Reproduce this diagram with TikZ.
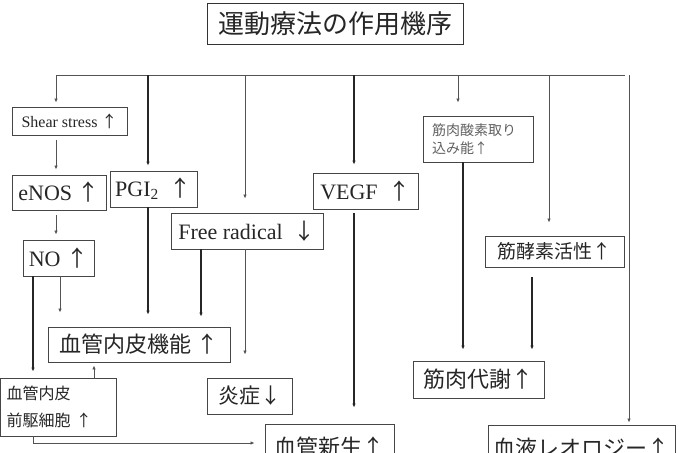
\documentclass[tikz,border=0pt]{standalone}
\usepackage{fontspec}
\setmainfont{Liberation Serif}
\newfontfamily\jp{Noto Sans CJK JP}
\usetikzlibrary{arrows.meta}

\newcommand\uarr{{\jp ↑}}
\newcommand\darr{{\jp ↓}}

\begin{document}
\begin{tikzpicture}[x=1pt, y=-1pt,
    box/.style={draw=gray!55!black, line width=0.9pt, inner sep=0pt, text=black!85},
    jbox/.style={box, font=\jp\fontsize{22}{24}\selectfont},
    ebox/.style={box, font=\fontsize{22}{24}\selectfont},
    conn/.style={-{Latex[length=4pt,width=3.5pt]}, draw=gray!65!black, line width=0.8pt, shorten >=4pt},
    connb/.style={conn, draw=black!85, line width=1.3pt}]
  \useasboundingbox (0,0) rectangle (679,452);
  \clip (0,0) rectangle (679,452);

  % Titel
  \node[box, draw=black!80, minimum width=256pt, minimum height=41pt,
        font=\jp\fontsize{26}{28}\selectfont] (title) at (335,23.5) {運動療法の作用機序};

  % Kästen
  \node[ebox, font=\fontsize{16}{18}\selectfont, minimum width=115pt, minimum height=28pt] (shear) at (69.5,121) {Shear stress \uarr};
  \node[ebox, minimum width=94pt, minimum height=35pt] (enos) at (59,192.5) {eNOS \uarr};
  \node[ebox, minimum width=87pt, minimum height=36pt] (pgi) at (153.5,189) {PGI\textsubscript{2}\ \ \uarr};
  \node[ebox, minimum width=152pt, minimum height=36pt] (frad) at (247,231) {Free radical \ \darr};
  \node[ebox, minimum width=105pt, minimum height=36pt] (vegf) at (365.5,191) {VEGF \ \uarr};
  \node[ebox, minimum width=71pt, minimum height=36pt] (no) at (58.5,258) {NO \uarr};
  \node[jbox, font=\jp\fontsize{14}{18}\selectfont, text=gray!75!black, align=left, text width=92pt,
        minimum width=110pt, minimum height=46pt] (o2) at (478,139) {筋肉酸素取り\\込み能\uarr};
  \node[jbox, font=\jp\fontsize{19}{21}\selectfont, minimum width=139pt, minimum height=31pt] (enz) at (554.5,251.5) {筋酵素活性\uarr};
  \node[jbox, minimum width=182pt, minimum height=35pt] (endo) at (139,344.5) {血管内皮機能 \uarr};
  \node[jbox, font=\jp\fontsize{16}{27}\selectfont, align=left, text width=104pt,
        minimum width=116pt, minimum height=58pt] (epc) at (58.5,407) {血管内皮\\前駆細胞 \uarr};
  \node[jbox, font=\jp\fontsize{21}{23}\selectfont, minimum width=85pt, minimum height=36pt] (infl) at (249.5,396) {炎症\darr};
  \node[jbox, minimum width=131pt, minimum height=37pt] (meta) at (478.5,379.5) {筋肉代謝\uarr};
  \node[jbox, minimum width=129pt, minimum height=46pt] (angio) at (329.5,447) {血管新生\uarr};
  \node[jbox, minimum width=187pt, minimum height=46pt] (rheo) at (581.5,448) {血液レオロジー\uarr};

  % Verteilerlinie
  \coordinate (b1) at (56,75);
  \coordinate (b2) at (148,75);
  \coordinate (b3) at (245,75);
  \coordinate (b4) at (354,75);
  \coordinate (b5) at (458,75);
  \coordinate (b6) at (549,75);
  \coordinate (b7) at (629,75);
  \draw[conn, -] (b1) -- (b7);

  \draw[conn] (b1) -- (b1 |- shear.north);
  \draw[connb, shorten >=5pt] (b2) -- (b2 |- pgi.north);
  \draw[conn, shorten >=14pt] (b3) -- (b3 |- frad.north);
  \draw[connb, shorten >=8pt] (b4) -- (b4 |- vegf.north);
  \draw[conn, shorten >=13pt] (b5) -- (b5 |- o2.north);
  \draw[conn, shorten >=13pt] (b6) -- (b6 |- enz.north);
  \draw[conn, shorten >=2pt] (b7) -- (b7 |- rheo.north);

  % Wirkungen
  \draw[conn, shorten <=5pt, shorten >=5pt] (shear.south -| b1) -- (enos.north -| b1);
  \draw[conn, shorten <=5pt, shorten >=5pt] (enos.south -| b1) -- (no.north -| b1);
  \draw[conn, shorten >=14pt] ([xshift=1.5pt]no.south) -- ([xshift=1.5pt]no.south |- endo.north);
  \draw[connb, shorten >=6pt] ([xshift=-25.5pt]no.south) -- ([xshift=-25.5pt]no.south |- epc.north);
  \draw[connb, shorten >=12pt] (pgi.south -| b2) -- (endo.north -| b2);
  \draw[connb, shorten >=10pt] ([xshift=-46pt]frad.south) -- ([xshift=-46pt]frad.south |- endo.north);
  \draw[conn, shorten >=23pt] (frad.south -| b3) -- (infl.north -| b3);
  \draw[conn, shorten >=3pt] ([xshift=35.5pt]epc.north) -- ([xshift=35.5pt]epc.north |- endo.south);
  \draw[conn, shorten >=10pt] ([xshift=-25.5pt]epc.south) |- ([yshift=4pt]angio.west);
  \draw[connb, shorten <=4pt, shorten >=16pt] (vegf.south -| b4) -- (angio.north -| b4);
  \draw[connb, shorten >=11pt] ([xshift=-15pt]o2.south) -- ([xshift=-15pt]o2.south |- meta.north);
  \draw[connb, shorten <=10pt, shorten >=11pt] ([xshift=-22.5pt]enz.south) -- ([xshift=-22.5pt]enz.south |- meta.north);
\end{tikzpicture}
\end{document}
